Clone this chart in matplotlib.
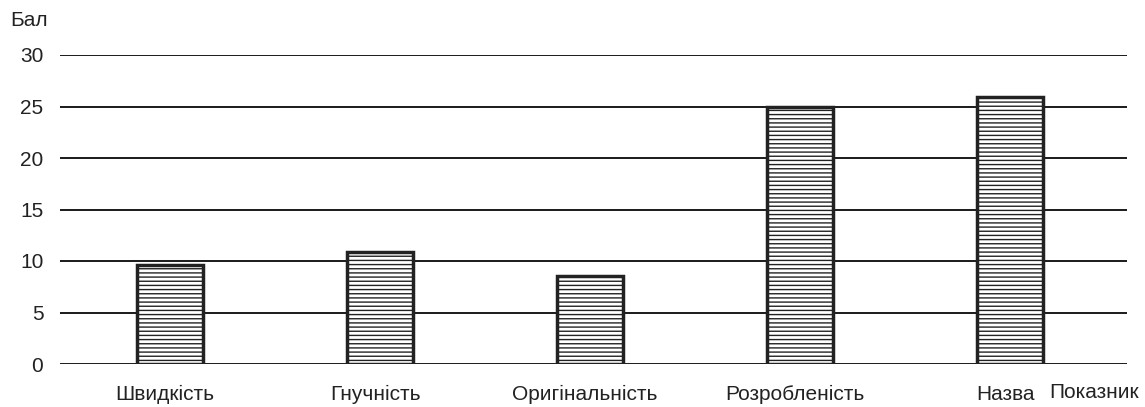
import matplotlib.pyplot as plt
from matplotlib.transforms import ScaledTranslation

kategorii = ['Швидкість', 'Гнучність', 'Оригінальність', 'Розробленість', 'Назва']
bali = [9.6, 10.9, 8.5, 25.0, 25.9]
pozycii = [0, 1, 2, 3, 4]
yticks = [0, 5, 10, 15, 20, 25, 30]

plt.rcParams['font.family'] = ['Liberation Sans', 'DejaVu Sans']
plt.rcParams['hatch.linewidth'] = 1.0
plt.rcParams['hatch.color'] = '#555555'

fig = plt.figure(figsize=(11.45, 4.07), dpi=100)
ax = fig.add_axes([60 / 1145, 1 - 364 / 407, (1127 - 60) / 1145, (364 - 55) / 407])

for y in yticks:
    ax.axhline(y, color='#1a1a1a', linewidth=1.4, zorder=1)

ax.bar(pozycii, bali, width=0.314, color='white', edgecolor='#222222',
       linewidth=2.5, hatch='----', zorder=2)

ax.set_xlim(-0.524, 4.557)
ax.set_ylim(0, 30)
ax.set_yticks(yticks)
ax.set_yticklabels([str(t) for t in yticks], fontsize=15, color='#222222')
ax.set_xticks(pozycii)
ax.set_xticklabels(kategorii, fontsize=15, color='#222222')
ax.tick_params(axis='both', length=0)
ax.tick_params(axis='x', pad=15)
ax.tick_params(axis='y', pad=12)
zsuv = ScaledTranslation(-5 / 100, 0, fig.dpi_scale_trans)
for lbl in ax.get_xticklabels():
    lbl.set_transform(lbl.get_transform() + zsuv)
for s in ax.spines.values():
    s.set_visible(False)

fig.text(10 / 1145, 1 - 20 / 407, 'Бал', fontsize=15, color='#222222', va='center')
fig.text(1094 / 1145, 1 - 392 / 407, 'Показник', fontsize=15, color='#222222',
         va='center', ha='center')

fig.savefig('out.png', dpi=100)
